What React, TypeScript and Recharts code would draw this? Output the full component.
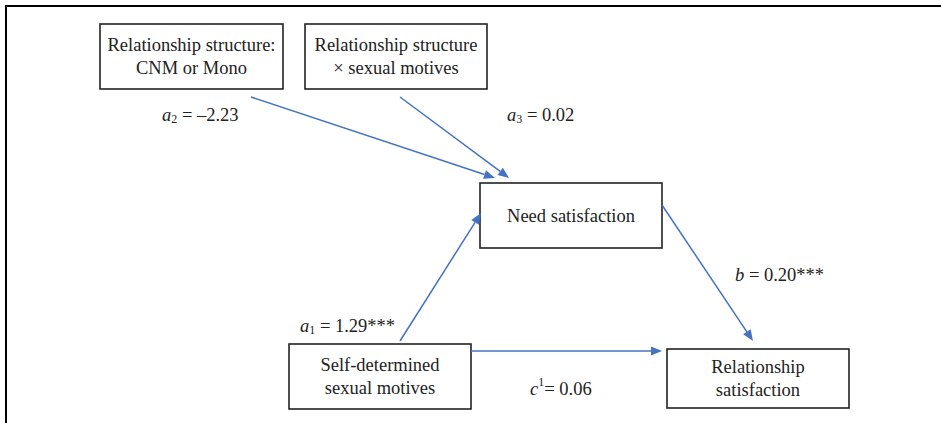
import React from 'react'
import {
  ScatterChart, Scatter, XAxis, YAxis, ReferenceArea, ReferenceLine
} from 'recharts'

// boxes of the path model (diagram units = page px)
const boxLabels = [
  ['Relationship structure:', 'CNM or Mono'],
  ['Relationship structure', '× sexual motives'],
  ['Need satisfaction'],
  ['Self-determined', 'sexual motives'],
  ['Relationship', 'satisfaction'],
]
const boxLeft = [100, 305, 480, 289, 667]
const boxRight = [283, 487, 662, 471, 849]
const boxTop = [24, 24, 183, 344, 349]
const boxBottom = [89, 89, 248, 409, 408]

// arrows: start -> tip
const pathFrom = [
  { x: 251, y: 97 }, { x: 400, y: 97 }, { x: 400, y: 341 }, { x: 471, y: 351 }, { x: 662, y: 205 },
]
const pathTo = [
  { x: 495, y: 178 }, { x: 509, y: 178 }, { x: 481, y: 213 }, { x: 662, y: 351 }, { x: 753, y: 341 },
]

// path coefficients
const coefSymbol = ['a', 'a', 'a', 'b', 'c']
const coefIndex = ['2', '3', '1', '', '1']
const coefIndexKind = ['sub', 'sub', 'sub', '', 'sup']
const coefValue = [' = –2.23', ' = 0.02', ' = 1.29***', ' = 0.20***', '= 0.06']
const coefX = [162, 507, 300, 735, 530]
const coefY = [115, 115, 326, 275, 389]

const coefData = coefSymbol.map((s, i) => ({
  x: coefX[i], y: coefY[i], symbol: s, index: coefIndex[i], kind: coefIndexKind[i], value: coefValue[i],
}))

const FONT = 'Liberation Serif, Tinos, Times New Roman, DejaVu Serif, serif'
const BLUE = '#4472C4'
const FS = 18.5
const textStyle = { fontFamily: FONT, fontSize: FS }

const Arrow = (p: any) => {
  const { x1, y1, x2, y2 } = p
  const ang = Math.atan2(y2 - y1, x2 - x1)
  const len = 11, hw = 4.5
  const bx = x2 - len * Math.cos(ang), by = y2 - len * Math.sin(ang)
  const px = -Math.sin(ang) * hw, py = Math.cos(ang) * hw
  return (
    <g>
      <line x1={x1} y1={y1} x2={bx} y2={by} stroke={BLUE} strokeWidth={1.5} />
      <polygon points={`${x2},${y2} ${bx + px},${by + py} ${bx - px},${by - py}`} fill={BLUE} />
    </g>
  )
}

const boxShape = (lines: string[]) => (p: any) => {
  const { x, y, width, height } = p
  const cx = x + width / 2, cy = y + height / 2
  const gap = 22.5
  const start = cy - ((lines.length - 1) * gap) / 2
  return (
    <g>
      <rect x={x} y={y} width={width} height={height} fill="#fff" stroke="#222" strokeWidth={1.6} />
      {lines.map((l, i) => (
        <text key={i} x={cx} y={start + i * gap} textAnchor="middle" dominantBaseline="central"
          style={textStyle} fill="#222">{l}</text>
      ))}
    </g>
  )
}

const CoefLabel = (p: any) => {
  const { cx, cy, payload } = p
  const d = payload.kind === 'sub' ? 4 : payload.kind === 'sup' ? -7 : 0
  return (
    <text x={cx} y={cy} dominantBaseline="central" style={textStyle} fill="#222">
      <tspan fontStyle="italic">{payload.symbol}</tspan>
      {payload.index && <tspan style={{ fontSize: 12 }} dy={d}>{payload.index}</tspan>}
      <tspan dy={-d}>{payload.value}</tspan>
    </text>
  )
}

export default function App() {
  return (
    <div style={{ position: 'absolute', left: 0, top: 0, width: 941, height: 423, background: '#fff', fontFamily: FONT }}>
      <div style={{
        position: 'absolute', left: 5, top: 5, width: 936, height: 418,
        borderTop: '2px solid #000', borderLeft: '2px solid #000',
      }} />
      <div style={{ position: 'absolute', left: 0, top: 0 }}>
        <ScatterChart width={941} height={423} margin={{ top: 0, right: 0, bottom: 0, left: 0 }}>
          <XAxis type="number" dataKey="x" domain={[0, 941]} hide />
          <YAxis type="number" dataKey="y" domain={[0, 423]} reversed hide />
          {pathFrom.map((f, i) => (
            <ReferenceLine key={'p' + i} segment={[f, pathTo[i]]} shape={Arrow} />
          ))}
          {boxLabels.map((lines, i) => (
            <ReferenceArea key={'b' + i} x1={boxLeft[i]} x2={boxRight[i]} y1={boxTop[i]} y2={boxBottom[i]}
              shape={boxShape(lines)} />
          ))}
          <Scatter data={coefData} shape={CoefLabel} isAnimationActive={false} />
        </ScatterChart>
      </div>
    </div>
  )
}
